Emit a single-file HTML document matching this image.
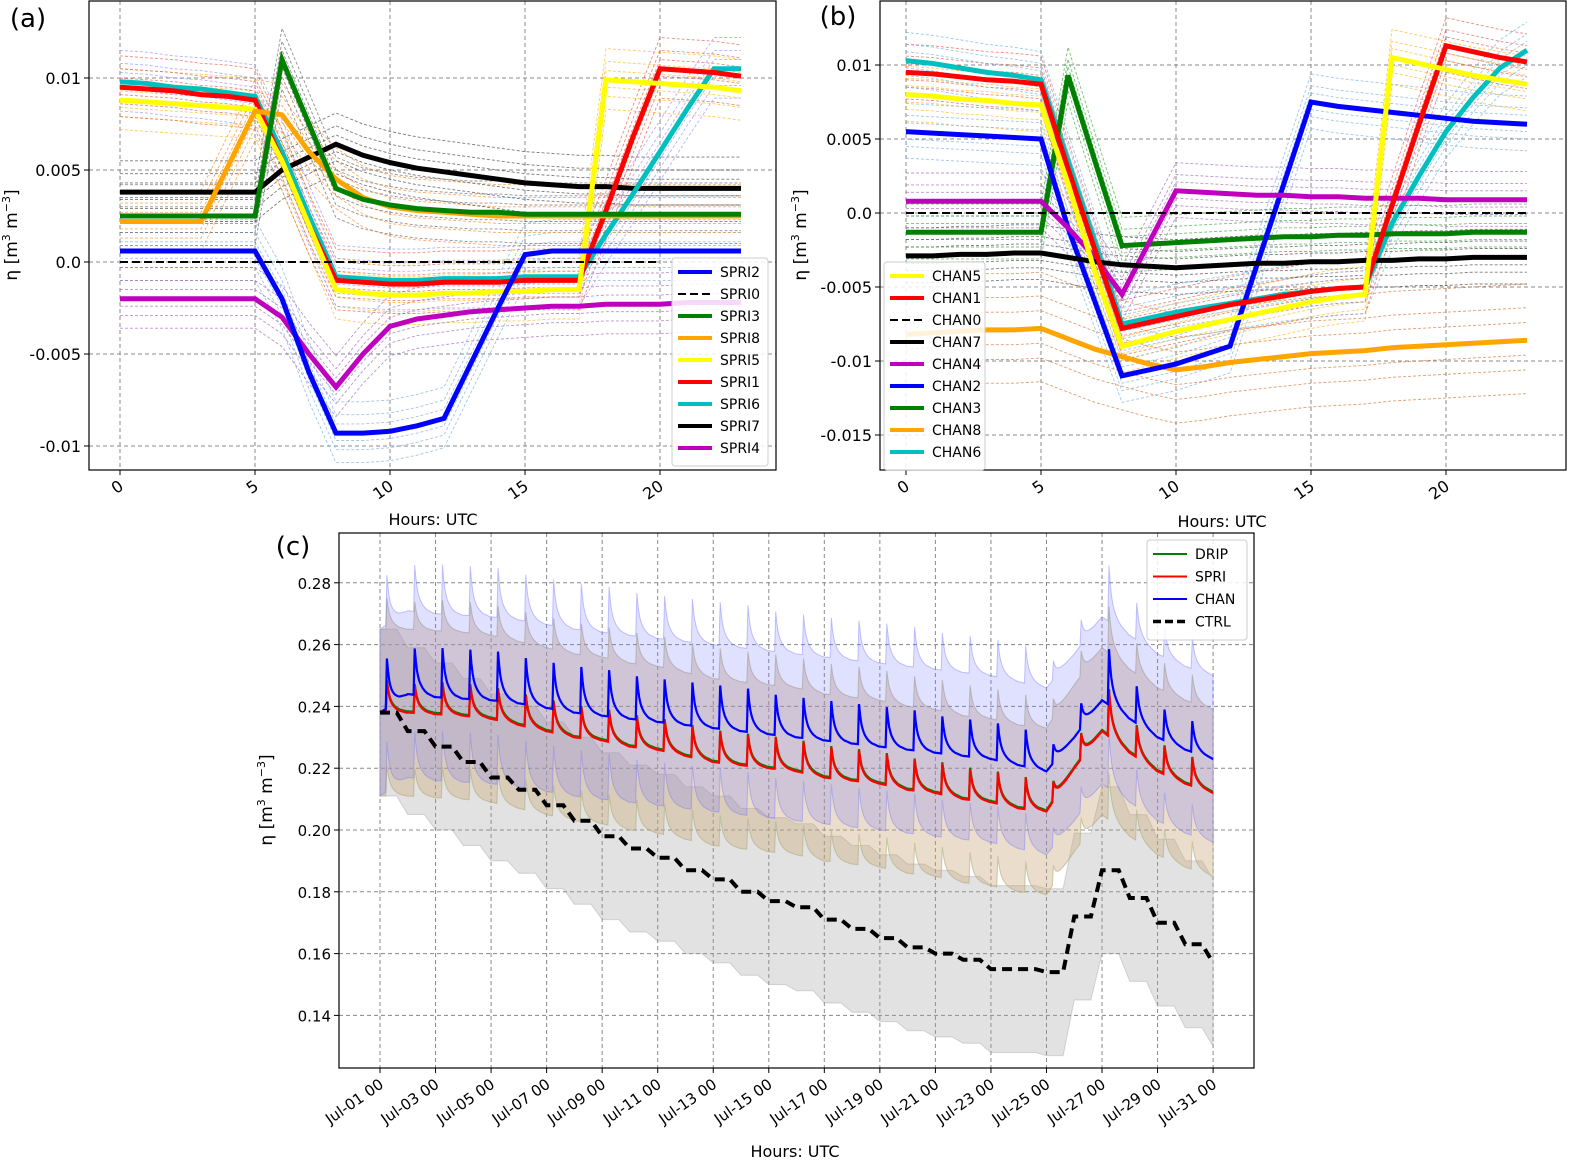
<!DOCTYPE html>
<html><head><meta charset="utf-8"><style>
body{margin:0;background:#fff}
svg{display:block;font-family:"DejaVu Sans","Liberation Sans",sans-serif}
</style></head><body>
<svg id="s" width="1591" height="1175" viewBox="0 0 1591 1175" xmlns="http://www.w3.org/2000/svg"></svg>
<script>
// ---------- Panel (a) data (hourly 0..23) ----------
const hoursA = [0,1,2,3,4,5,6,7,8,9,10,11,12,13,14,15,16,17,18,19,20,21,22,23];
const spri2 = [0.0006,0.0006,0.0006,0.0006,0.0006,0.0006,-0.002,-0.006,-0.0093,-0.0093,-0.0092,-0.0089,-0.0085,-0.0055,-0.0025,0.0004,0.0006,0.0006,0.0006,0.0006,0.0006,0.0006,0.0006,0.0006];
const spri0 = [0,0,0,0,0,0,0,0,0,0,0,0,0,0,0,0,0,0,0,0,0];
const spri3 = [0.0025,0.0025,0.0025,0.0025,0.0025,0.0025,0.011,0.0075,0.004,0.0034,0.0031,0.0029,0.0028,0.0027,0.0027,0.0026,0.0026,0.0026,0.0026,0.0026,0.0026,0.0026,0.0026,0.0026];
const spri8 = [0.0022,0.0022,0.0022,0.0022,0.0052,0.0082,0.008,0.006,0.0045,0.0035,0.003,0.0028,0.0027,0.0026,0.0025,0.0025,0.0025,0.0025,0.0025,0.0025,0.0025,0.0025,0.0025,0.0025];
const spri5 = [0.0088,0.0087,0.0086,0.0085,0.0084,0.0083,0.0055,0.002,-0.0015,-0.0017,-0.0018,-0.0018,-0.0017,-0.0017,-0.0016,-0.0016,-0.0015,-0.0015,0.0099,0.0098,0.0097,0.0096,0.0095,0.0093];
const spri1 = [0.0095,0.0094,0.0093,0.0091,0.009,0.0088,0.0055,0.002,-0.001,-0.0011,-0.0012,-0.0012,-0.0011,-0.0011,-0.0011,-0.001,-0.001,-0.001,0.0028,0.0068,0.0105,0.0104,0.0103,0.0101];
const spri6 = [0.0098,0.0097,0.0095,0.0094,0.0092,0.009,0.006,0.0025,-0.0008,-0.0009,-0.001,-0.001,-0.0009,-0.0009,-0.0009,-0.0008,-0.0008,-0.0008,0.0015,0.0037,0.006,0.0083,0.0105,0.0105];
const spri7 = [0.0038,0.0038,0.0038,0.0038,0.0038,0.0038,0.005,0.0057,0.0064,0.0058,0.0054,0.0051,0.0049,0.0047,0.0045,0.0043,0.0042,0.0041,0.0041,0.004,0.004,0.004,0.004,0.004];
const spri4 = [-0.002,-0.002,-0.002,-0.002,-0.002,-0.002,-0.003,-0.005,-0.0068,-0.005,-0.0035,-0.0031,-0.0029,-0.0027,-0.0026,-0.0025,-0.0024,-0.0024,-0.0023,-0.0023,-0.0023,-0.0022,-0.0022,-0.0022];
const spreadA = [-0.0016,-0.0009,-0.0004,0.0005,0.001,0.0017];
// ---------- Panel (b) data ----------
const chan5 = [0.008,0.0079,0.0077,0.0076,0.0074,0.0073,0.002,-0.004,-0.009,-0.0085,-0.008,-0.0076,-0.0072,-0.0068,-0.0064,-0.006,-0.0057,-0.0055,0.0105,0.0101,0.0097,0.0093,0.009,0.0087];
const chan1 = [0.0095,0.0094,0.0092,0.009,0.0089,0.0087,0.003,-0.0025,-0.0078,-0.0074,-0.007,-0.0066,-0.0062,-0.0059,-0.0056,-0.0053,-0.0051,-0.005,0.0005,0.006,0.0113,0.0109,0.0105,0.0102];
const chan0 = [0,0,0,0,0,0,0,0,0,0,0,0,0,0,0,0,0,0,0,0,0,0,0,0];
const chan7 = [-0.0029,-0.0029,-0.0028,-0.0028,-0.0027,-0.0027,-0.003,-0.0033,-0.0035,-0.0036,-0.0037,-0.0036,-0.0035,-0.0034,-0.0034,-0.0033,-0.0033,-0.0032,-0.0032,-0.0031,-0.0031,-0.003,-0.003,-0.003];
const chan4 = [0.0008,0.0008,0.0008,0.0008,0.0008,0.0008,-0.001,-0.003,-0.0055,-0.002,0.0015,0.0014,0.0013,0.0012,0.0012,0.0011,0.0011,0.001,0.001,0.001,0.0009,0.0009,0.0009,0.0009];
const chan2 = [0.0055,0.0054,0.0053,0.0052,0.0051,0.005,-0.001,-0.006,-0.011,-0.0106,-0.0102,-0.0096,-0.009,-0.0035,0.002,0.0075,0.0072,0.007,0.0068,0.0066,0.0064,0.0062,0.0061,0.006];
const chan3 = [-0.0013,-0.0013,-0.0013,-0.0013,-0.0013,-0.0013,0.0093,0.0035,-0.0022,-0.0021,-0.002,-0.0019,-0.0018,-0.0017,-0.0016,-0.0016,-0.0015,-0.0015,-0.0014,-0.0014,-0.0014,-0.0013,-0.0013,-0.0013];
const chan8 = [-0.0082,-0.0081,-0.008,-0.0079,-0.0079,-0.0078,-0.0085,-0.0092,-0.0097,-0.0102,-0.0106,-0.0104,-0.0101,-0.0099,-0.0097,-0.0095,-0.0094,-0.0093,-0.0091,-0.009,-0.0089,-0.0088,-0.0087,-0.0086];
const chan6 = [0.0103,0.0101,0.0098,0.0095,0.0093,0.009,0.0035,-0.002,-0.0075,-0.0071,-0.0067,-0.0064,-0.0061,-0.0058,-0.0055,-0.0053,-0.0051,-0.005,-0.0007,0.0025,0.0055,0.0078,0.0098,0.011];
const spreadB = [-0.0018,-0.001,-0.0005,0.0006,0.0011,0.0019];
// ---------- Panel (c) data (per day, 31 values) ----------
const days = [0,1,2,3,4,5,6,7,8,9,10,11,12,13,14,15,16,17,18,19,20,21,22,23,24,25,26,27,28,29,30];
const chanBase = [0.238,0.244,0.243,0.2425,0.242,0.241,0.2395,0.238,0.237,0.236,0.235,0.234,0.233,0.232,0.231,0.230,0.229,0.228,0.227,0.226,0.225,0.224,0.223,0.221,0.219,0.230,0.242,0.236,0.230,0.226,0.223];
const chanSpike = [0.016,0.015,0.016,0.016,0.016,0.015,0.015,0.015,0.015,0.014,0.014,0.014,0.014,0.014,0.013,0.013,0.013,0.013,0.013,0.013,0.012,0.012,0.012,0.012,0.006,0.008,0.018,0.012,0.010,0.010,0.0];
const spriBase = [0.238,0.238,0.2375,0.237,0.236,0.234,0.232,0.230,0.229,0.227,0.226,0.224,0.222,0.221,0.220,0.219,0.217,0.216,0.215,0.213,0.212,0.210,0.209,0.207,0.206,0.220,0.232,0.225,0.219,0.215,0.212];
const spriSpike = [0.010,0.009,0.010,0.010,0.010,0.010,0.010,0.010,0.010,0.010,0.010,0.010,0.010,0.010,0.010,0.010,0.010,0.010,0.010,0.010,0.010,0.010,0.010,0.010,0.006,0.008,0.015,0.010,0.009,0.009,0.0];
const ctrl = [0.238,0.232,0.227,0.222,0.217,0.213,0.208,0.203,0.198,0.194,0.191,0.187,0.184,0.180,0.177,0.175,0.171,0.168,0.165,0.162,0.160,0.158,0.155,0.155,0.154,0.172,0.187,0.178,0.170,0.163,0.157];
const profile = [0,0,0,0,0,0,1,0.72,0.52,0.4,0.31,0.25,0.2,0.16,0.13,0.1,0.08,0.06,0.05,0.04,0.03,0.02,0.01,0];
const chanHalf = [0.027,0.027,0.027,0.027,0.027,0.027,0.027,0.027,0.027,0.027,0.027,0.027,0.027,0.027,0.027,0.027,0.027,0.027,0.027,0.027,0.027,0.027,0.027,0.027,0.027,0.027,0.027,0.027,0.027,0.027,0.027];
const spriHalf = 0.027, ctrlHalf = 0.027;
const dateTicks = ["Jul-01 00","Jul-03 00","Jul-05 00","Jul-07 00","Jul-09 00","Jul-11 00","Jul-13 00","Jul-15 00","Jul-17 00","Jul-19 00","Jul-21 00","Jul-23 00","Jul-25 00","Jul-27 00","Jul-29 00","Jul-31 00"];

const NS="http://www.w3.org/2000/svg", S=document.getElementById('s');
function el(tag,attrs,parent){const e=document.createElementNS(NS,tag);for(const k in attrs)e.setAttribute(k,attrs[k]);(parent||S).appendChild(e);return e;}
function grp(name){const g=el('g',{});return g;}
function txt(g,x,y,s,size,anchor,extra){const t=el('text',Object.assign({x:x,y:y,'font-size':size,'text-anchor':anchor||'middle',fill:'#000'},extra||{}),g);t.textContent=s;return t;}

function panel(name,box,xs,ys,xticks,yticks,ylabels,label,lx){
  const g=grp(name);
  const fr=el('rect',{x:box[0],y:box[1],width:box[2]-box[0],height:box[3]-box[1],fill:'#fff',stroke:'none'},g);
  return g;
}
function frameAndGrid(g,box,xs,ys,xticks,xlabels,yticks,ylabels,rot){
  const gg=el('g',{},g);
  xticks.forEach(v=>el('line',{x1:xs(v),x2:xs(v),y1:box[1],y2:box[3],stroke:'#888','stroke-width':1,'stroke-dasharray':'4,3'},gg));
  yticks.forEach(v=>el('line',{x1:box[0],x2:box[2],y1:ys(v),y2:ys(v),stroke:'#888','stroke-width':1,'stroke-dasharray':'4,3'},gg));
}
function axesText(g,box,xs,ys,xticks,xlabels,yticks,ylabels,rot,fs){
  el('rect',{x:box[0],y:box[1],width:box[2]-box[0],height:box[3]-box[1],fill:'none',stroke:'#000','stroke-width':1.2},g);
  const xt=el('g',{},g);
  xticks.forEach((v,i)=>{const x=xs(v);el('line',{x1:x,x2:x,y1:box[3],y2:box[3]+5,stroke:'#000'},xt);
    const t=txt(xt,x,box[3]+20,xlabels[i],fs,'end',{transform:`rotate(${rot} ${x} ${box[3]+12})`});});
  const yt=el('g',{},g);
  yticks.forEach((v,i)=>{const y=ys(v);el('line',{x1:box[0]-5,x2:box[0],y1:y,y2:y,stroke:'#000'},yt);
    txt(yt,box[0]-8,y+6,ylabels[i],fs,'end');});
}
function pathOf(xsArr,vals,xs,ys){return vals.map((v,i)=>(i?'L':'M')+xs(xsArr[i]).toFixed(1)+','+ys(v).toFixed(1)).join('');}
function ylabel(g,x,y){const t=el('text',{x:x,y:y,'font-size':17,'text-anchor':'middle',transform:`rotate(-90 ${x} ${y})`},g);
  
  t.innerHTML='η [m<tspan font-size="11" dy="-7">3</tspan><tspan dy="7"> m</tspan><tspan font-size="11" dy="-7">−3</tspan><tspan dy="7">]</tspan>';}
function legend(g,x,y,w,items,gap){
  const lg=el('g',{},g);
  el('rect',{x:x,y:y,width:w,height:items.length*gap+10,fill:'#fff','fill-opacity':0.85,stroke:'#ccc',rx:3},lg);
  items.forEach((it,i)=>{const e=el('g',{},lg);
    const yy=y+14+i*gap;el('line',{x1:x+6,x2:x+40,y1:yy,y2:yy,stroke:it[1],'stroke-width':it[2],'stroke-dasharray':it[3]||'none'},e);
    txt(e,x+48,yy+5,it[0],14,'start');});
}

// ---------- Panel A ----------
(function(){
  const box=[89,1,776,470];
  const xs=h=>120+27*h, ys=v=>262-v*18400;
  const g=panel('panel-a',box);
  frameAndGrid(g,box,xs,ys,[0,5,10,15,20],null,[0.01,0.005,0,-0.005,-0.01]);
  const series=[['SPRI2',spri2,'#0000ff',5,null],['SPRI0',spri0,'#000',2,'8,4'],['SPRI3',spri3,'#008000',5,null],['SPRI8',spri8,'#ffa500',5,null],['SPRI5',spri5,'#ffff00',5,null],['SPRI1',spri1,'#ff0000',5,null],['SPRI6',spri6,'#00bfbf',5,null],['SPRI7',spri7,'#000',5,null],['SPRI4',spri4,'#bf00bf',5,null]];
  const ens=el('g',{},g);
  const ensCol={SPRI2:'#6fa8dc',SPRI3:'#555',SPRI8:'#ff7f0e',SPRI5:'#ffb000',SPRI1:'#e74c3c',SPRI6:'#8888ff',SPRI7:'#333',SPRI4:'#9b59b6'};
  series.forEach(s=>{if(s[0]==='SPRI0')return;spreadA.forEach(o=>{el('path',{d:pathOf(hoursA,s[1].map(v=>v+o),xs,ys),fill:'none',stroke:ensCol[s[0]],'stroke-width':0.9,'stroke-dasharray':'3,2',opacity:0.65},ens);});});
  const ml=el('g',{},g);
  [...series].reverse().forEach(s=>{const p=el('path',{d:pathOf(hoursA,s[1],xs,ys),fill:'none',stroke:s[2],'stroke-width':s[3],'stroke-dasharray':s[4]||'none'},ml);
    });
  axesText(g,box,xs,ys,[0,5,10,15,20],['0','5','10','15','20'],[0.01,0.005,0,-0.005,-0.01],['0.01','0.005','0.0','-0.005','-0.01'],-35,16);
  legend(g,672,258,96,series.map(s=>[s[0],s[2],s[4]?2:4,s[4]]),22);
  ylabel(g,17,235);
  const xl=txt(g,433,525,'Hours: UTC',16);
  const pl=txt(g,28,27,'(a)',26);
})();

// ---------- Panel B ----------
(function(){
  const box=[880,1,1566,470];
  const xs=h=>906+27*h, ys=v=>213-v*14800;
  const g=panel('panel-b',box);
  const yt=[0.01,0.005,0,-0.005,-0.01,-0.015];
  frameAndGrid(g,box,xs,ys,[0,5,10,15,20],null,yt);
  const series=[['CHAN5',chan5,'#ffff00',5,null],['CHAN1',chan1,'#ff0000',5,null],['CHAN0',chan0,'#000',2,'8,4'],['CHAN7',chan7,'#000',5,null],['CHAN4',chan4,'#bf00bf',5,null],['CHAN2',chan2,'#0000ff',5,null],['CHAN3',chan3,'#008000',5,null],['CHAN8',chan8,'#ffa500',5,null],['CHAN6',chan6,'#00bfbf',5,null]];
  const ens=el('g',{},g);
  const ensCol={CHAN5:'#ffb000',CHAN1:'#e74c3c',CHAN7:'#333',CHAN4:'#9b59b6',CHAN2:'#6fa8dc',CHAN3:'#2ca02c',CHAN8:'#d2691e',CHAN6:'#5dade2'};
  series.forEach(s=>{if(s[0]==='CHAN0')return;spreadB.forEach(o=>{el('path',{d:pathOf(hoursA,s[1].map(v=>v+o*(s[0]==='CHAN8'?2:1)),xs,ys),fill:'none',stroke:ensCol[s[0]],'stroke-width':0.9,'stroke-dasharray':'3,2',opacity:0.65},ens);});});
  const ml=el('g',{},g);
  [...series].reverse().forEach(s=>{const p=el('path',{d:pathOf(hoursA,s[1],xs,ys),fill:'none',stroke:s[2],'stroke-width':s[3],'stroke-dasharray':s[4]||'none'},ml);
    });
  axesText(g,box,xs,ys,[0,5,10,15,20],['0','5','10','15','20'],yt,['0.01','0.005','0.0','-0.005','-0.01','-0.015'],-35,16);
  legend(g,884,262,101,series.map(s=>[s[0],s[2],s[4]?2:4,s[4]]),22);
  ylabel(g,806,235);
  const xl=txt(g,1222,527,'Hours: UTC',16);
  const pl=txt(g,838,25,'(b)',26);
})();

// ---------- Panel C ----------
(function(){
  const box=[339,533,1254,1068];
  const xs=d=>380+d*27.77, ys=v=>830-(v-0.2)*3090;
  const g=panel('panel-c',box);
  const ytv=[0.14,0.16,0.18,0.2,0.22,0.24,0.26,0.28];
  const xtv=dateTicks.map((_,i)=>i*2);
  frameAndGrid(g,box,xs,ys,xtv,null,ytv);
  // hourly series
  function hourly(base,spike){const t=[],v=[];for(let d=0;d<30;d++)for(let h=0;h<24;h++){const f=h/24;t.push(d+f);v.push(base[d]+(base[d+1]-base[d])*f+spike[d]*profile[h]);}t.push(30);v.push(base[30]);return [t,v];}
  const [tc,vc]=hourly(chanBase,chanSpike), [ts,vs]=hourly(spriBase,spriSpike);
  const tctrl=[],vctrl=[];for(let d=0;d<30;d++){tctrl.push(d,d+0.6);vctrl.push(ctrl[d],ctrl[d]);}tctrl.push(30);vctrl.push(ctrl[30]);
  function band(t,v,lo,hi,fill,op,name){const up=t.map((x,i)=>xs(x).toFixed(1)+','+ys(v[i]+hi).toFixed(1));const dn=t.map((x,i)=>xs(x).toFixed(1)+','+ys(v[i]-lo).toFixed(1)).reverse();
    const p=el('polygon',{points:up.concat(dn).join(' '),fill:fill,'fill-opacity':op,stroke:fill,'stroke-opacity':0.4},g);}
  band(tctrl,vctrl,ctrlHalf,ctrlHalf,'#a0a0a0',0.3,'ctrl-band');
  band(ts,vs,spriHalf,spriHalf,'#e8a070',0.3,'spri-band');
  band(ts,vs,spriHalf,spriHalf,'#8fbc8f',0.12,'drip-band');
  band(tc,vc,chanHalf[0],chanHalf[0],'#7070ff',0.22,'chan-band');
  function line(t,v,c,w,da,name){const p=el('path',{d:pathOf(t,v,xs,ys),fill:'none',stroke:c,'stroke-width':w,'stroke-dasharray':da||'none'},g);}
  line(ts,vs.map(v=>v+0.0004),'#008000',2.2,null,'line-drip');
  line(ts,vs,'#ff0000',2.2,null,'line-spri');
  line(tc,vc,'#0000ff',2.2,null,'line-chan');
  line(tctrl,vctrl,'#000',4,'10,6','line-ctrl');
  axesText(g,box,xs,ys,xtv,dateTicks,ytv,ytv.map(v=>v.toFixed(2)),-35,15);
  legend(g,1147,540,100,[['DRIP','#008000',2],['SPRI','#ff0000',2],['CHAN','#0000ff',2],['CTRL','#000',3.5,'8,4']],22.5);
  ylabel(g,272,800);
  const xl=txt(g,795,1157,'Hours: UTC',16);
  const pl=txt(g,293,555,'(c)',26);
})();
</script>
</body></html>
